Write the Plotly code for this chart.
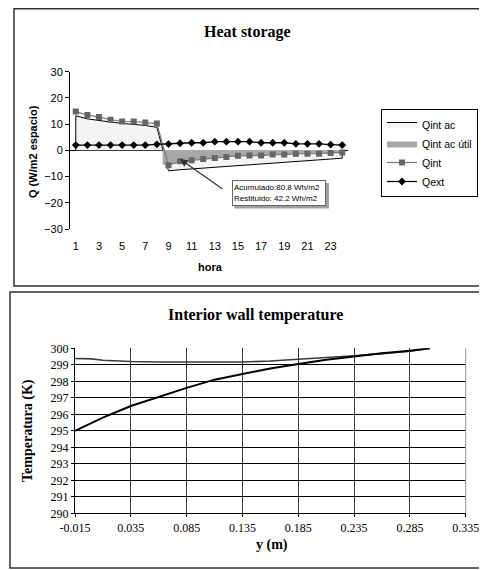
import plotly.graph_objects as go

# ---------------- data: Heat storage ----------------
hours = list(range(1, 25))
qint_ac = [13.2, 12.0, 11.3, 10.8, 10.3, 10.0, 9.5, 8.8,
           -7.8, -7.4, -7.1, -6.8, -6.5, -6.2, -5.9, -5.6,
           -5.3, -5.0, -4.7, -4.4, -4.0, -3.7, -3.3, -3.0]
util_hours = [8.5, 9, 10, 11, 12, 13, 14, 15, 16, 17, 18, 19, 20, 21, 22, 23, 24]
qint_ac_util = [-5.5, -5.7, -4.2, -3.8, -3.3, -2.9, -2.5, -2.1, -2.0,
                -2.0, -1.6, -1.6, -1.3, -1.3, -1.3, -1.0, -0.8]
qint = [14.8, 13.5, 12.7, 11.7, 11.0, 11.0, 10.6, 10.2,
        -5.7, -4.2, -3.8, -3.3, -2.9, -2.5, -2.1, -2.0,
        -2.0, -1.6, -1.6, -1.3, -1.3, -1.3, -1.0, -0.8]
qext = [2.0, 2.0, 2.0, 2.0, 2.0, 2.0, 2.0, 2.3,
        2.4, 2.7, 2.9, 2.9, 3.3, 3.3, 3.3, 3.3,
        2.9, 2.9, 2.9, 2.5, 2.5, 2.5, 2.2, 2.0]
x_ticks = [1, 3, 5, 7, 9, 11, 13, 15, 17, 19, 21, 23]
q_ticks = [-30, -20, -10, 0, 10, 20, 30]
grid_ticks = [-20, -10, 10, 20]
between_ticks = [h + 0.5 for h in range(0, 25)]

# ---------------- data: Interior wall temperature ----------------
y_pos = [-0.015, 0.0, 0.01, 0.035, 0.06, 0.085, 0.11, 0.135, 0.16, 0.185, 0.21, 0.235, 0.26, 0.285, 0.303]
temp_a = [299.38, 299.36, 299.28, 299.2, 299.17, 299.17, 299.17, 299.17, 299.23, 299.33, 299.43, 299.55, 299.68, 299.82, 300.0]
temp_b = [295.0, 295.5, 295.8, 296.5, 297.05, 297.6, 298.1, 298.45, 298.78, 299.05, 299.3, 299.5, 299.7, 299.85, 300.0]
t_ticks = list(range(290, 301))
y_ticks = [-0.015, 0.035, 0.085, 0.135, 0.185, 0.235, 0.285, 0.335]
y_ticktext = ["-0.015", "0.035", "0.085", "0.135", "0.185", "0.235", "0.285", "0.335"]

# page body has an 8px margin: figure occupies screen pixels from (8, 8)
OFF = 8
W, H = 487 - OFF, 570 - OFF
def px(v):
    return (v - OFF) / W
def py(v):
    return 1 - (v - OFF) / H

SANS = "Liberation Sans, Arial, sans-serif"
SERIF = "Liberation Serif, Times New Roman, serif"

# area outline closes down to the baseline at both ends (as in the spreadsheet area chart)
area_x = [hours[0]] + hours + [hours[-1]]
area_y = [0] + qint_ac + [0]

fig = go.Figure()

fig.add_trace(go.Scatter(x=area_x, y=area_y, name="Qint ac", mode="lines",
                         line=dict(color="black", width=1), fill="toself",
                         fillcolor="#f4f4f4", xaxis="x", yaxis="y"))
fig.add_trace(go.Scatter(x=util_hours, y=qint_ac_util, name="Qint ac útil", mode="lines",
                         line=dict(color="#a8a8a8", width=0), fill="tozeroy",
                         fillcolor="#a8a8a8", xaxis="x", yaxis="y"))
fig.add_trace(go.Scatter(x=hours, y=qint, name="Qint", mode="lines+markers",
                         line=dict(color="#7a7a7a", width=1.2),
                         marker=dict(symbol="square", size=6, color="#666666"),
                         xaxis="x", yaxis="y"))
fig.add_trace(go.Scatter(x=hours, y=qext, name="Qext", mode="lines+markers",
                         line=dict(color="black", width=1.3),
                         marker=dict(symbol="diamond", size=6, color="black"),
                         xaxis="x", yaxis="y"))

fig.add_trace(go.Scatter(x=y_pos, y=temp_a, mode="lines", showlegend=False,
                         line=dict(color="#3c3c3c", width=1.6), xaxis="x3", yaxis="y4"))
fig.add_trace(go.Scatter(x=y_pos, y=temp_b, mode="lines", showlegend=False,
                         line=dict(color="black", width=2), xaxis="x3", yaxis="y4"))

top_dom_x = [px(70), px(348)]
top_dom_y = [py(229), py(71.7)]
bot_dom_x = [px(75), px(465.7)]
bot_dom_y = [py(513.3), py(348.3)]

tickfont_sans = dict(family=SANS, size=11, color="black")
tickfont_serif = dict(family=SERIF, size=12, color="black")

fig.update_layout(
    width=W, height=H, margin=dict(l=0, r=0, t=0, b=0, pad=0, autoexpand=False),
    paper_bgcolor="white", plot_bgcolor="rgba(0,0,0,0)",
    showlegend=True,
    legend=dict(x=px(381), y=py(109), xanchor="left", yanchor="top",
                bordercolor="black", borderwidth=1, bgcolor="white",
                font=dict(family=SANS, size=10.5, color="black"),
                tracegroupgap=0, itemwidth=30),
    xaxis=dict(domain=top_dom_x, anchor="y", range=[0.5, 24.5],
               tickvals=x_ticks, ticks="", showline=False, showgrid=False,
               zeroline=False, tickfont=tickfont_sans, automargin=False,
               ticklabelstandoff=9),
    xaxis2=dict(domain=top_dom_x, overlaying="x", anchor="free", position=py(150.7),
                range=[0.5, 24.5], tickvals=between_ticks, ticks="outside",
                ticklen=3, tickcolor="black", showticklabels=False,
                showline=False, showgrid=False, zeroline=False),
    yaxis=dict(domain=top_dom_y, anchor="x", range=[-30, 30], tickvals=q_ticks,
               ticks="outside", ticklen=4, tickcolor="black", showline=True,
               linecolor="black", linewidth=1, showgrid=False,
               zeroline=True, zerolinecolor="black", zerolinewidth=1,
               tickfont=tickfont_sans, automargin=False),
    yaxis2=dict(domain=top_dom_y, anchor="x", overlaying="y", side="right",
                range=[30, -30], tickvals=q_ticks, ticks="outside", ticklen=4,
                tickcolor="black", showline=True, linecolor="black", linewidth=1,
                showgrid=False, zeroline=False, tickfont=tickfont_sans, automargin=False),
    yaxis3=dict(domain=top_dom_y, anchor="x", overlaying="y", range=[-30, 30],
                tickvals=grid_ticks, showticklabels=False, ticks="",
                showgrid=True, gridcolor="black", gridwidth=1, griddash="dash",
                showline=False, zeroline=False),
    xaxis3=dict(domain=bot_dom_x, anchor="y4", range=[-0.015, 0.335],
                tickvals=y_ticks, ticktext=y_ticktext, ticks="outside", ticklen=3,
                tickcolor="black", showline=True, linecolor="black",
                showgrid=True, gridcolor="#3a3a3a", gridwidth=1, zeroline=False,
                tickfont=tickfont_serif, automargin=False),
    yaxis4=dict(domain=bot_dom_y, anchor="x3", range=[290, 300], tickvals=t_ticks,
                ticks="outside", ticklen=3, tickcolor="black", showline=True,
                linecolor="black", showgrid=True, gridcolor="black", gridwidth=1,
                zeroline=False, tickfont=tickfont_serif, automargin=False),
)

shapes = [
    dict(type="rect", xref="paper", yref="paper", x0=px(14), x1=px(482), y0=py(286), y1=py(8.7),
         line=dict(color="#333333", width=1.5)),
    dict(type="rect", xref="paper", yref="paper", x0=px(10), x1=px(485), y0=py(568), y1=py(292),
         line=dict(color="#333333", width=1.5)),
    dict(type="line", xref="paper", yref="paper", x0=bot_dom_x[1], x1=bot_dom_x[1],
         y0=bot_dom_y[0], y1=bot_dom_y[1], line=dict(color="#9a9a9a", width=1)),
    # drop shadow of the callout box
    dict(type="rect", xref="paper", yref="paper", x0=px(234.5), x1=px(329), y0=py(208.5), y1=py(183),
         line=dict(width=0), fillcolor="#a0a0a0", layer="above"),
]
fig.update_layout(shapes=shapes)

def lab(text, x, y, font, angle=0):
    return dict(text=text, xref="paper", yref="paper", x=px(x), y=py(y),
                xanchor="center", yanchor="middle", textangle=angle,
                showarrow=False, font=font)

box_text = "Acumulado:80.8 Wh/m2<br>Restituido: 42.2 Wh/m2"
annotations = [
    lab("<b>Heat storage</b>", 247, 32, dict(family=SERIF, size=16, color="black")),
    lab("<b>Interior wall temperature</b>", 255, 315, dict(family=SERIF, size=16, color="black")),
    lab("<b>Q (W/m2 espacio)</b>", 33, 152, dict(family=SANS, size=11, color="black"), -90),
    lab("<b>hora</b>", 210, 267, dict(family=SANS, size=11, color="black")),
    lab("<b>Temperatura (K)</b>", 28, 431, dict(family=SERIF, size=14, color="black"), -90),
    lab("<b>y (m)</b>", 272, 545, dict(family=SERIF, size=14, color="black")),
    dict(text=box_text, xref="paper", yref="paper", x=px(279), y=py(193),
         xanchor="center", yanchor="middle",
         width=90, height=22, showarrow=False, align="left", valign="middle",
         font=dict(family=SANS, size=8, color="black"),
         bgcolor="white", bordercolor="#666666", borderwidth=1, borderpad=1),
    dict(text="", xref="x", yref="y", x=10.0, y=-3.3, ax=44, ay=31,
         showarrow=True, arrowhead=2, arrowsize=1.3, arrowwidth=1.2, arrowcolor="#333333"),
]
fig.update_layout(annotations=annotations)

fig.write_html("out.html")
